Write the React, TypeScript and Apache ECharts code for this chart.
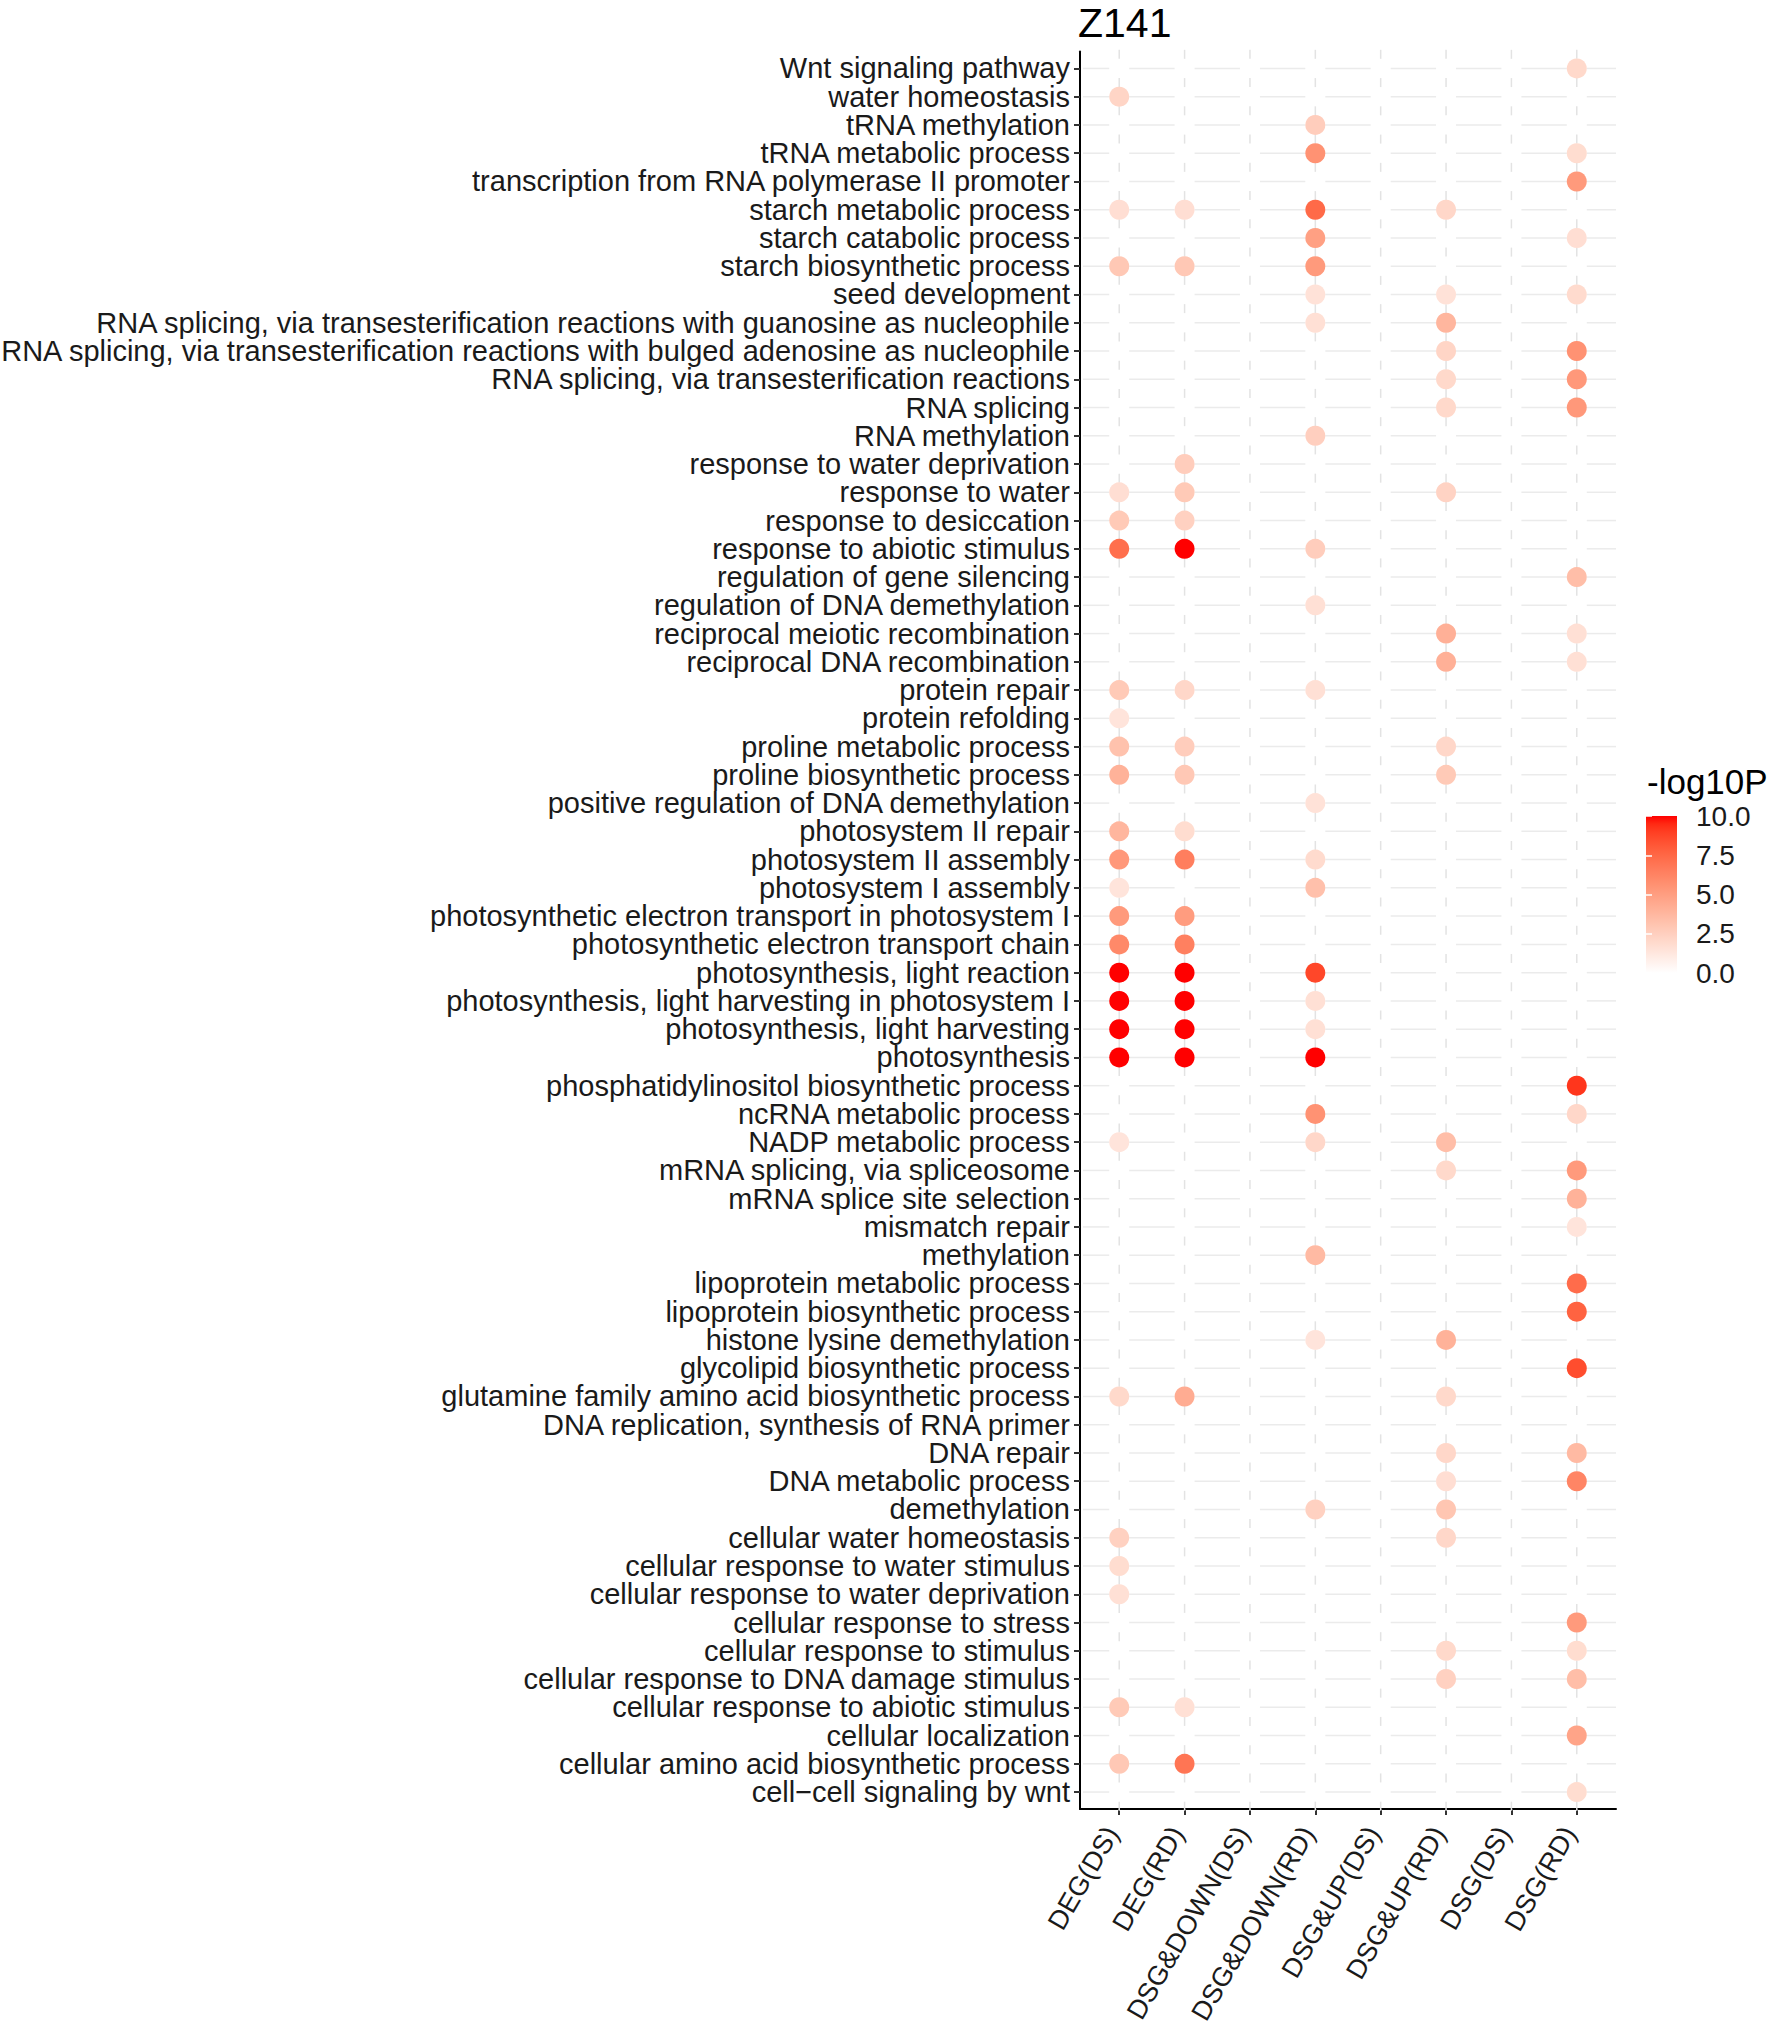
import React, { useEffect, useRef } from "react";
import * as echarts from "echarts";

const chartTitle = "Z141";
const legendTitle = "-log10P";

const xCategories = [
  "DEG(DS)",
  "DEG(RD)",
  "DSG&DOWN(DS)",
  "DSG&DOWN(RD)",
  "DSG&UP(DS)",
  "DSG&UP(RD)",
  "DSG(DS)",
  "DSG(RD)",
];

// top -> bottom as displayed
const yCategories = [
  "Wnt signaling pathway",
  "water homeostasis",
  "tRNA methylation",
  "tRNA metabolic process",
  "transcription from RNA polymerase II promoter",
  "starch metabolic process",
  "starch catabolic process",
  "starch biosynthetic process",
  "seed development",
  "RNA splicing, via transesterification reactions with guanosine as nucleophile",
  "RNA splicing, via transesterification reactions with bulged adenosine as nucleophile",
  "RNA splicing, via transesterification reactions",
  "RNA splicing",
  "RNA methylation",
  "response to water deprivation",
  "response to water",
  "response to desiccation",
  "response to abiotic stimulus",
  "regulation of gene silencing",
  "regulation of DNA demethylation",
  "reciprocal meiotic recombination",
  "reciprocal DNA recombination",
  "protein repair",
  "protein refolding",
  "proline metabolic process",
  "proline biosynthetic process",
  "positive regulation of DNA demethylation",
  "photosystem II repair",
  "photosystem II assembly",
  "photosystem I assembly",
  "photosynthetic electron transport in photosystem I",
  "photosynthetic electron transport chain",
  "photosynthesis, light reaction",
  "photosynthesis, light harvesting in photosystem I",
  "photosynthesis, light harvesting",
  "photosynthesis",
  "phosphatidylinositol biosynthetic process",
  "ncRNA metabolic process",
  "NADP metabolic process",
  "mRNA splicing, via spliceosome",
  "mRNA splice site selection",
  "mismatch repair",
  "methylation",
  "lipoprotein metabolic process",
  "lipoprotein biosynthetic process",
  "histone lysine demethylation",
  "glycolipid biosynthetic process",
  "glutamine family amino acid biosynthetic process",
  "DNA replication, synthesis of RNA primer",
  "DNA repair",
  "DNA metabolic process",
  "demethylation",
  "cellular water homeostasis",
  "cellular response to water stimulus",
  "cellular response to water deprivation",
  "cellular response to stress",
  "cellular response to stimulus",
  "cellular response to DNA damage stimulus",
  "cellular response to abiotic stimulus",
  "cellular localization",
  "cellular amino acid biosynthetic process",
  "cell\u2212cell signaling by wnt",
];

// -log10P values per comparison: [term, value]
const degDS: [string, number][] = [
  ["water homeostasis", 2.2],
  ["starch metabolic process", 1.7],
  ["starch biosynthetic process", 2.9],
  ["response to water", 1.7],
  ["response to desiccation", 2.8],
  ["response to abiotic stimulus", 7.2],
  ["protein repair", 2.8],
  ["protein refolding", 1.4],
  ["proline metabolic process", 3.2],
  ["proline biosynthetic process", 4.0],
  ["photosystem II repair", 3.8],
  ["photosystem II assembly", 5.3],
  ["photosystem I assembly", 1.4],
  ["photosynthetic electron transport in photosystem I", 5.2],
  ["photosynthetic electron transport chain", 6.0],
  ["photosynthesis, light reaction", 10],
  ["photosynthesis, light harvesting in photosystem I", 10],
  ["photosynthesis, light harvesting", 10],
  ["photosynthesis", 10],
  ["NADP metabolic process", 1.4],
  ["glutamine family amino acid biosynthetic process", 2.0],
  ["cellular water homeostasis", 2.4],
  ["cellular response to water stimulus", 1.8],
  ["cellular response to water deprivation", 1.6],
  ["cellular response to abiotic stimulus", 2.8],
  ["cellular amino acid biosynthetic process", 2.9],
];

const degRD: [string, number][] = [
  ["starch metabolic process", 1.7],
  ["starch biosynthetic process", 2.9],
  ["response to water deprivation", 2.6],
  ["response to water", 2.8],
  ["response to desiccation", 2.4],
  ["response to abiotic stimulus", 10],
  ["protein repair", 2.1],
  ["proline metabolic process", 2.6],
  ["proline biosynthetic process", 2.9],
  ["photosystem II repair", 1.8],
  ["photosystem II assembly", 6.5],
  ["photosynthetic electron transport in photosystem I", 5.1],
  ["photosynthetic electron transport chain", 6.4],
  ["photosynthesis, light reaction", 10],
  ["photosynthesis, light harvesting in photosystem I", 10],
  ["photosynthesis, light harvesting", 10],
  ["photosynthesis", 10],
  ["glutamine family amino acid biosynthetic process", 4.3],
  ["cellular response to abiotic stimulus", 1.6],
  ["cellular amino acid biosynthetic process", 6.9],
];

const dsgDownDS: [string, number][] = [];

const dsgDownRD: [string, number][] = [
  ["tRNA methylation", 2.6],
  ["tRNA metabolic process", 5.6],
  ["starch metabolic process", 7.4],
  ["starch catabolic process", 4.9],
  ["starch biosynthetic process", 5.2],
  ["seed development", 1.5],
  ["RNA splicing, via transesterification reactions with guanosine as nucleophile", 1.6],
  ["RNA methylation", 2.5],
  ["response to abiotic stimulus", 2.6],
  ["regulation of DNA demethylation", 1.6],
  ["protein repair", 1.6],
  ["positive regulation of DNA demethylation", 1.5],
  ["photosystem II assembly", 1.9],
  ["photosystem I assembly", 3.3],
  ["photosynthesis, light reaction", 8.7],
  ["photosynthesis, light harvesting in photosystem I", 1.6],
  ["photosynthesis, light harvesting", 1.6],
  ["photosynthesis", 10],
  ["ncRNA metabolic process", 5.6],
  ["NADP metabolic process", 2.1],
  ["methylation", 3.6],
  ["histone lysine demethylation", 1.4],
  ["demethylation", 2.4],
];

const dsgUpDS: [string, number][] = [];

const dsgUpRD: [string, number][] = [
  ["starch metabolic process", 2.1],
  ["seed development", 1.5],
  ["RNA splicing, via transesterification reactions with guanosine as nucleophile", 3.8],
  ["RNA splicing, via transesterification reactions with bulged adenosine as nucleophile", 2.2],
  ["RNA splicing, via transesterification reactions", 2.0],
  ["RNA splicing", 2.0],
  ["response to water", 2.3],
  ["reciprocal meiotic recombination", 4.1],
  ["reciprocal DNA recombination", 4.1],
  ["proline metabolic process", 2.1],
  ["proline biosynthetic process", 2.8],
  ["NADP metabolic process", 3.4],
  ["mRNA splicing, via spliceosome", 2.0],
  ["histone lysine demethylation", 4.0],
  ["glutamine family amino acid biosynthetic process", 2.0],
  ["DNA repair", 2.1],
  ["DNA metabolic process", 1.7],
  ["demethylation", 3.0],
  ["cellular water homeostasis", 2.1],
  ["cellular response to stimulus", 2.0],
  ["cellular response to DNA damage stimulus", 2.4],
];

const dsgDS: [string, number][] = [];

const dsgRD: [string, number][] = [
  ["Wnt signaling pathway", 2.0],
  ["tRNA metabolic process", 1.8],
  ["transcription from RNA polymerase II promoter", 5.2],
  ["starch catabolic process", 1.7],
  ["seed development", 1.9],
  ["RNA splicing, via transesterification reactions with bulged adenosine as nucleophile", 5.6],
  ["RNA splicing, via transesterification reactions", 5.3],
  ["RNA splicing", 5.3],
  ["regulation of gene silencing", 3.4],
  ["reciprocal meiotic recombination", 1.6],
  ["reciprocal DNA recombination", 1.6],
  ["phosphatidylinositol biosynthetic process", 9.2],
  ["ncRNA metabolic process", 2.1],
  ["mRNA splicing, via spliceosome", 5.2],
  ["mRNA splice site selection", 4.0],
  ["mismatch repair", 1.4],
  ["lipoprotein metabolic process", 7.3],
  ["lipoprotein biosynthetic process", 7.7],
  ["glycolipid biosynthetic process", 8.5],
  ["DNA repair", 3.6],
  ["DNA metabolic process", 6.2],
  ["cellular response to stress", 5.2],
  ["cellular response to stimulus", 1.8],
  ["cellular response to DNA damage stimulus", 3.4],
  ["cellular localization", 4.7],
  ["cell\u2212cell signaling by wnt", 1.8],
];

const columns = [degDS, degRD, dsgDownDS, dsgDownRD, dsgUpDS, dsgUpRD, dsgDS, dsgRD];

const colorMin = 0;
const colorMax = 10;
const legendTickStep = 2.5;

// ---- white -> red gradient interpolated in CIE Lab (like ggplot2) ----
function toLin(c: number) {
  c /= 255;
  return c <= 0.04045 ? c / 12.92 : Math.pow((c + 0.055) / 1.055, 2.4);
}
function fromLin(c: number) {
  const v = c <= 0.0031308 ? 12.92 * c : 1.055 * Math.pow(c, 1 / 2.4) - 0.055;
  return Math.round(Math.max(0, Math.min(1, v)) * 255);
}
function rgbToLab(r: number, g: number, b: number) {
  const R = toLin(r), G = toLin(g), B = toLin(b);
  const X = (0.4124 * R + 0.3576 * G + 0.1805 * B) / 0.95047;
  const Y = 0.2126 * R + 0.7152 * G + 0.0722 * B;
  const Z = (0.0193 * R + 0.1192 * G + 0.9505 * B) / 1.08883;
  const f = (t: number) => (t > 0.008856 ? Math.cbrt(t) : 7.787 * t + 16 / 116);
  const fx = f(X), fy = f(Y), fz = f(Z);
  return [116 * fy - 16, 500 * (fx - fy), 200 * (fy - fz)];
}
function labToHex(L: number, a: number, bb: number) {
  const fy = (L + 16) / 116;
  const fx = fy + a / 500;
  const fz = fy - bb / 200;
  const inv = (t: number) => (t * t * t > 0.008856 ? t * t * t : (t - 16 / 116) / 7.787);
  const X = inv(fx) * 0.95047, Y = inv(fy), Z = inv(fz) * 1.08883;
  const R = 3.2406 * X - 1.5372 * Y - 0.4986 * Z;
  const G = -0.9689 * X + 1.8758 * Y + 0.0415 * Z;
  const B = 0.0557 * X - 0.204 * Y + 1.057 * Z;
  const h = (n: number) => n.toString(16).padStart(2, "0");
  return "#" + h(fromLin(R)) + h(fromLin(G)) + h(fromLin(B));
}
function labRamp(n: number) {
  const lo = rgbToLab(255, 255, 255);
  const hi = rgbToLab(255, 0, 0);
  const out: string[] = [];
  for (let i = 0; i <= n; i++) {
    const t = i / n;
    out.push(labToHex(lo[0] + (hi[0] - lo[0]) * t, lo[1] + (hi[1] - lo[1]) * t, lo[2] + (hi[2] - lo[2]) * t));
  }
  return out;
}

const FONT = "'Liberation Sans', Arial, Helvetica, sans-serif";
const EXPAND = 0.6; // ggplot discrete-axis expansion

export default function App() {
  const ref = useRef<HTMLDivElement>(null);

  useEffect(() => {
    if (!ref.current) return;
    const chart = echarts.init(ref.current, undefined, { renderer: "svg" });

    const ramp = labRamp(20);
    const xIdx = xCategories.map((_, i) => i);
    const yIdx = yCategories.map((_, i) => i);
    const yMin = -EXPAND;
    const yMax = yCategories.length - 1 + EXPAND;
    // blank labels at the axis ends absorb ECharts' min/max overlap hiding
    const yLabelValues = [yMin, ...yIdx, yMax];

    const points: number[][] = [];
    columns.forEach((col, j) => {
      col.forEach(([term, v]) => {
        const r = yCategories.indexOf(term);
        if (r >= 0) points.push([j, r, v]);
      });
    });

    const gridRows = yCategories.map((_, i) => [0, i]);

    const option: any = {
      animation: false,
      backgroundColor: "#ffffff",
      textStyle: { fontFamily: FONT },
      grid: [
        { left: 1080, top: 51.5, width: 536, height: 1757.5, outerBoundsMode: "none", containLabel: false },
        { left: 1646, top: 816, width: 31, height: 157, outerBoundsMode: "none", containLabel: false },
      ],
      xAxis: [
        {
          type: "value",
          gridIndex: 0,
          min: -EXPAND,
          max: xCategories.length - 1 + EXPAND,
          axisLine: { show: true, onZero: false, lineStyle: { color: "#000", width: 2 } },
          axisTick: { show: true, customValues: xIdx, length: 6, lineStyle: { color: "#333", width: 2 } },
          axisLabel: {
            customValues: xIdx,
            showMinLabel: true,
            showMaxLabel: true,
            formatter: (v: number) => xCategories[Math.round(v)] ?? "",
            rotate: 60,
            align: "right",
            verticalAlign: "bottom",
            lineHeight: 17,
            margin: 24,
            fontSize: 27,
            color: "#1a1a1a",
            fontFamily: FONT,
          },
          splitLine: { show: false },
        },
        { type: "value", gridIndex: 1, min: 0, max: 1, show: false },
      ],
      yAxis: [
        {
          type: "value",
          gridIndex: 0,
          inverse: true,
          min: yMin,
          max: yMax,
          axisLine: { show: true, onZero: false, lineStyle: { color: "#000", width: 2 } },
          axisTick: { show: true, customValues: yIdx, length: 6, lineStyle: { color: "#333", width: 2 } },
          axisLabel: {
            customValues: yLabelValues,
            hideOverlap: false,
            formatter: (v: number) => (Number.isInteger(v) ? yCategories[v] ?? "" : ""),
            margin: 10,
            fontSize: 29,
            color: "#1a1a1a",
            fontFamily: FONT,
          },
          splitLine: { show: false },
        },
        {
          type: "value",
          gridIndex: 1,
          min: colorMin,
          max: colorMax,
          interval: legendTickStep,
          position: "right",
          z: 10,
          axisLine: { show: false },
          axisTick: { show: true, inside: true, length: 6, lineStyle: { color: "#ffffff", width: 1.5 } },
          axisLabel: {
            showMinLabel: true,
            showMaxLabel: true,
            formatter: (v: number) => v.toFixed(1),
            margin: 19,
            fontSize: 28,
            color: "#1a1a1a",
            fontFamily: FONT,
          },
          splitLine: { show: false },
        },
        {
          type: "value",
          gridIndex: 1,
          min: colorMin,
          max: colorMax,
          interval: legendTickStep,
          position: "left",
          z: 10,
          axisLine: { show: false },
          axisTick: { show: true, inside: true, length: 6, lineStyle: { color: "#ffffff", width: 1.5 } },
          axisLabel: { show: false },
          splitLine: { show: false },
        },
      ],
      visualMap: {
        type: "continuous",
        show: false,
        min: colorMin,
        max: colorMax,
        dimension: 2,
        seriesIndex: 1,
        inRange: { color: ramp },
      },
      graphic: [
        {
          type: "text",
          x: 1078,
          y: 23,
          style: { text: chartTitle, font: `41px ${FONT}`, fill: "#000", textAlign: "left", textVerticalAlign: "middle" },
        },
        {
          type: "text",
          x: 1647,
          y: 781,
          style: { text: legendTitle, font: `35px ${FONT}`, fill: "#000", textAlign: "left", textVerticalAlign: "middle" },
        },
      ],
      series: [
        {
          type: "custom",
          xAxisIndex: 0,
          yAxisIndex: 0,
          silent: true,
          z: 1,
          clip: false,
          data: gridRows,
          encode: { x: 0, y: 1 },
          renderItem: (params: any, api: any) => {
            const i = api.value(1);
            const cs = params.coordSys;
            const y = api.coord([0, i])[1];
            const xs = xCategories.map((_, j) => api.coord([j, i])[0]);
            const children: any[] = [];
            const gap = 10;
            const hStyle = { stroke: "#ebebeb", lineWidth: 1.5 };
            const vStyle = { stroke: "#e3e3e3", lineWidth: 1.5 };
            let start = cs.x + 3;
            xs.forEach((x) => {
              children.push({ type: "line", shape: { x1: start, y1: y, x2: x - gap, y2: y }, style: hStyle });
              start = x + gap;
            });
            children.push({ type: "line", shape: { x1: start, y1: y, x2: cs.x + cs.width, y2: y }, style: hStyle });
            const mids = [i - 0.5];
            if (i === yCategories.length - 1) mids.push(i + 0.5);
            mids.forEach((m) => {
              const ym = api.coord([0, m])[1];
              xs.forEach((x) => {
                children.push({ type: "line", shape: { x1: x, y1: ym - 4.5, x2: x, y2: ym + 4.5 }, style: vStyle });
              });
            });
            return { type: "group", children };
          },
        },
        {
          type: "scatter",
          xAxisIndex: 0,
          yAxisIndex: 0,
          z: 3,
          symbol: "circle",
          symbolSize: 20,
          data: points,
          itemStyle: { opacity: 1 },
        },
        {
          type: "custom",
          xAxisIndex: 1,
          yAxisIndex: 1,
          silent: true,
          z: 1,
          data: [[0, colorMin]],
          renderItem: (params: any) => {
            const cs = params.coordSys;
            const stops = ramp
              .slice()
              .reverse()
              .map((c, k) => ({ offset: k / (ramp.length - 1), color: c }));
            return {
              type: "rect",
              shape: { x: cs.x, y: cs.y, width: cs.width, height: cs.height },
              style: { fill: new echarts.graphic.LinearGradient(0, 0, 0, 1, stops) },
            };
          },
        },
      ],
    };

    chart.setOption(option);
    return () => chart.dispose();
  }, []);

  return (
    <div
      ref={ref}
      style={{ position: "absolute", left: 0, top: 0, width: 1770, height: 2027, background: "#fff" }}
    />
  );
}
